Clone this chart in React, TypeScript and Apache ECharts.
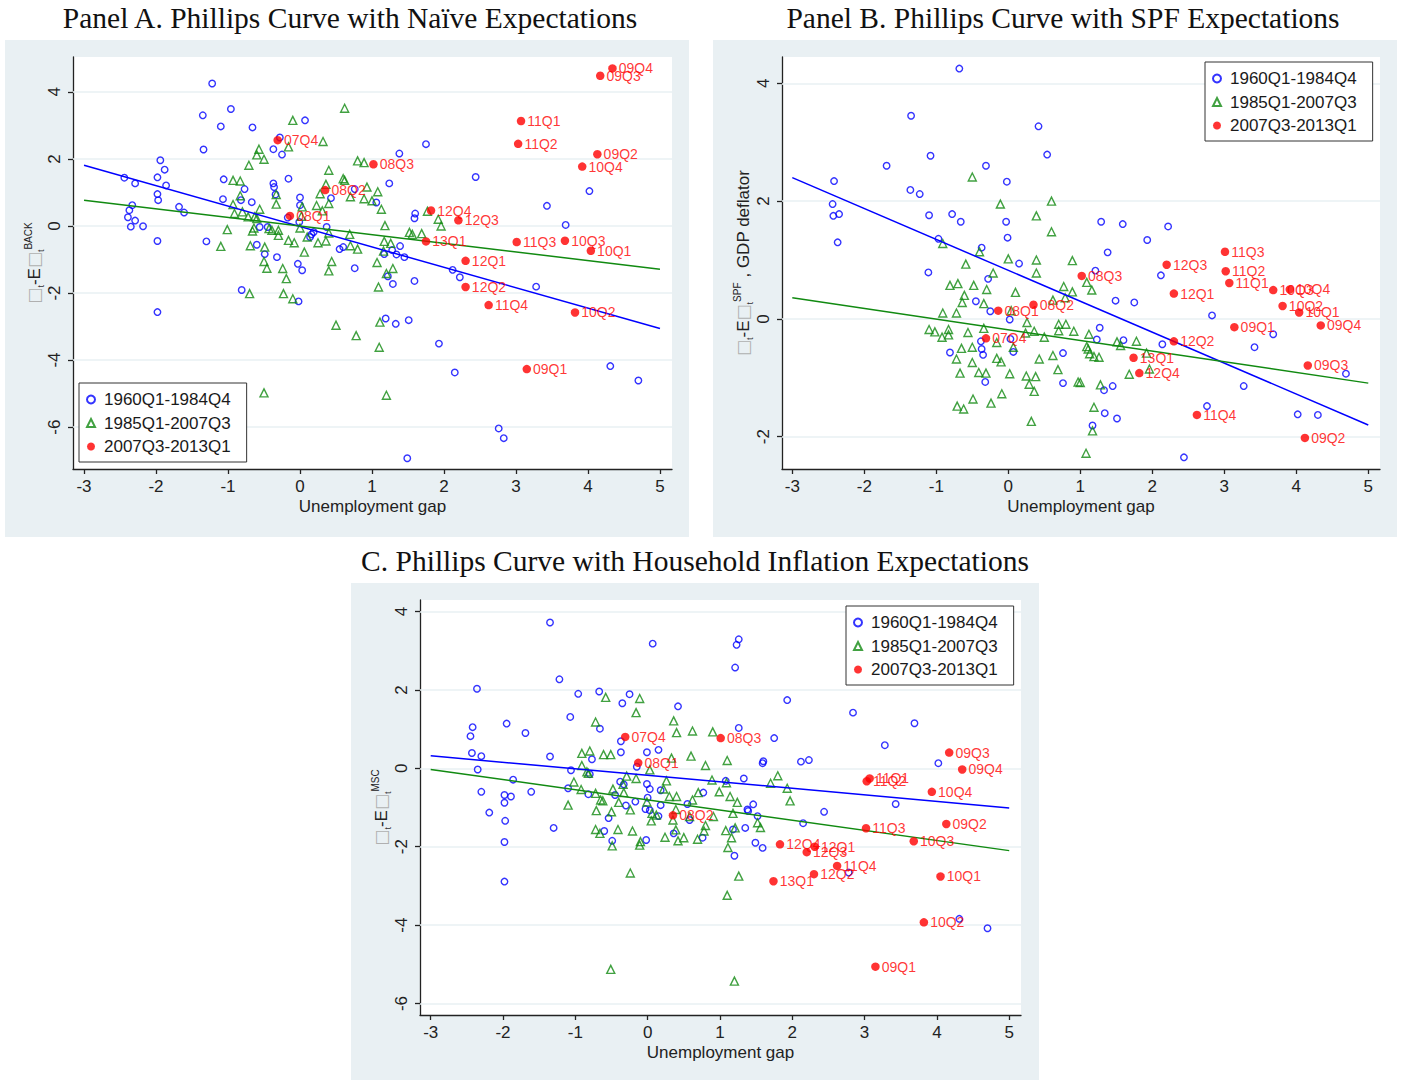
import React, { useEffect, useRef } from "react";
import * as echarts from "echarts";

const xTicks = [-3, -2, -1, 0, 1, 2, 3, 4, 5];
const yTicksA = [-6, -4, -2, 0, 2, 4];
const yTicksB = [-2, 0, 2, 4];
const yTicksC = [-6, -4, -2, 0, 2, 4];
const legendNames = ["1960Q1-1984Q4", "1985Q1-2007Q3", "2007Q3-2013Q1"];
const titles = [
  "Panel A. Phillips Curve with Naïve Expectations",
  "Panel B. Phillips Curve with SPF Expectations",
  "C. Phillips Curve with Household Inflation Expectations",
];
const xName = "Unemployment gap";

// ---------- Panel A ----------
const aBlue = [
  [-1.22, 4.25], [-1.35, 3.3], [-0.96, 3.49], [-1.1, 2.97], [-0.66, 2.94], [0.07, 3.15], [-1.34, 2.28], [-0.28, 2.64],
  [-0.37, 2.29], [-0.25, 2.13], [-1.94, 1.96], [-1.88, 1.68], [-2.44, 1.44], [-2.29, 1.27], [-1.98, 1.45], [-1.86, 1.21],
  [-1.98, 0.95], [-1.97, 0.77], [-2.33, 0.62], [-2.37, 0.47], [-2.39, 0.26], [-2.29, 0.16], [-2.35, -0.02], [-2.18, -0.01],
  [-1.68, 0.57], [-1.61, 0.4], [-1.06, 1.39], [-0.77, 1.1], [-1.07, 0.8], [-0.82, 0.77], [-0.67, 0.71], [-0.37, 1.27],
  [-0.36, 1.16], [-0.34, 0.94], [-0.16, 1.41], [0.0, 0.85], [0.0, 0.62], [0.43, 0.83], [0.76, 1.1], [-0.17, 0.25],
  [-0.01, 0.12], [-0.56, -0.03], [-0.45, -0.03], [0.37, -0.03], [-1.98, -0.45], [-1.3, -0.46], [-0.6, -0.56], [-0.49, -0.84],
  [-0.32, -0.93], [0.19, -0.18], [0.16, -0.25], [0.14, -0.33], [0.55, -0.69], [0.6, -0.63], [0.76, -1.26], [-0.03, -1.13],
  [0.03, -1.32], [-0.81, -1.91], [-0.02, -2.25], [-1.98, -2.57], [1.06, 0.7],
  [1.75, 2.44], [1.38, 2.16], [2.44, 1.46], [1.24, 1.27], [3.43, 0.6], [4.02, 1.04], [3.69, 0.03], [1.6, 0.37],
  [1.59, 0.23], [1.39, -0.6], [1.28, -0.72], [1.34, -0.85], [1.17, -0.84], [1.45, -0.93], [2.12, -1.31], [2.22, -1.53],
  [1.22, -1.5], [1.29, -1.73], [1.59, -1.64], [3.28, -1.81], [1.19, -2.76], [1.33, -2.92], [1.51, -2.81], [1.93, -3.51],
  [2.15, -4.37], [4.31, -4.18], [4.7, -4.61], [2.76, -6.04], [2.83, -6.33], [1.49, -6.93],
];
const aGreen = [
  [0.62, 3.51], [-0.1, 3.15], [0.32, 2.52], [-0.16, 2.36], [-0.57, 2.29], [-0.6, 2.12], [-0.5, 1.99], [-0.71, 1.81],
  [0.8, 1.94], [0.89, 1.89], [0.4, 1.66], [0.6, 1.41], [0.62, 1.36], [0.36, 1.24], [0.93, 1.16], [1.08, 1.02],
  [-0.93, 1.36], [-0.83, 1.34], [-0.83, 0.9], [-0.33, 0.94], [0.28, 0.96], [0.7, 0.87], [0.89, 0.81], [1.0, 0.75],
  [-0.93, 0.64], [-0.33, 0.65], [0.03, 0.57], [0.23, 0.61], [0.4, 0.67], [-0.56, 0.5], [-0.91, 0.37], [-0.8, 0.42],
  [-0.72, 0.27], [-0.63, 0.27], [-0.6, 0.22], [0.02, 0.29], [0.31, 0.45], [-1.01, -0.11], [-0.66, -0.15], [-0.64, -0.06],
  [-0.43, -0.08], [-0.39, -0.13], [-0.3, -0.13], [-0.3, -0.28], [0.0, -0.06], [0.4, -0.21], [0.69, -0.25], [0.1, -0.33],
  [-0.16, -0.43], [-0.08, -0.5], [0.25, -0.5], [0.36, -0.45], [0.7, -0.59], [0.8, -0.69], [-1.1, -0.61], [-0.69, -0.59],
  [-0.49, -0.63], [0.06, -0.78], [-0.5, -1.06], [-0.46, -1.26], [-0.24, -1.27], [-0.19, -1.57], [0.44, -1.06], [0.4, -1.34],
  [1.07, -1.09], [-0.23, -2.02], [-0.1, -2.17], [-0.7, -2.02], [1.09, -1.82],
  [1.13, 0.5], [1.18, 0.01], [1.77, 0.44], [1.92, 0.2], [1.96, 0.0], [1.52, -0.19], [1.56, -0.25], [1.69, -0.23],
  [1.17, -0.46], [1.26, -0.52], [1.16, -0.75], [1.29, -1.27], [1.2, -1.42], [1.11, -2.87], [1.1, -3.62],
  [0.5, -2.96], [0.78, -3.27], [-0.5, -4.98], [1.2, -5.05],
];
const aRedLabels = [
  "07Q4", "08Q1", "08Q2", "08Q3", "09Q4", "09Q3", "11Q1", "11Q2", "09Q2", "10Q4", "12Q4",
  "12Q3", "13Q1", "11Q3", "10Q3", "10Q1", "12Q1", "12Q2", "11Q4", "10Q2", "09Q1",
];
const aRedValues = [
  [-0.31, 2.56], [-0.14, 0.3], [0.35, 1.07], [1.02, 1.84], [4.34, 4.7], [4.17, 4.48], [3.07, 3.13], [3.03, 2.45],
  [4.13, 2.14], [3.92, 1.77], [1.82, 0.46], [2.2, 0.17], [1.75, -0.46], [3.01, -0.48], [3.68, -0.44], [4.04, -0.74],
  [2.3, -1.04], [2.3, -1.82], [2.62, -2.36], [3.82, -2.58], [3.15, -4.27],
];
const aFitBlue = [[-3, 1.81], [5, -3.06]];
const aFitGreen = [[-3, 0.77], [5, -1.29]];

// ---------- Panel B ----------
const bBlue = [
  [-0.68, 4.25], [-1.35, 3.45], [0.42, 3.27], [0.54, 2.79], [-1.08, 2.77], [-1.69, 2.6], [-0.31, 2.6], [-2.42, 2.34],
  [-1.36, 2.19], [-1.23, 2.12], [-0.02, 2.33], [-2.44, 1.95], [-2.43, 1.75], [-2.35, 1.78], [-1.1, 1.76], [-0.78, 1.78],
  [-0.66, 1.65], [-0.03, 1.65], [-0.01, 1.38], [-2.37, 1.3], [-0.97, 1.36], [-0.37, 1.21], [0.15, 0.94], [-1.11, 0.79],
  [-0.28, 0.68], [-0.45, 0.3], [-0.25, 0.13], [0.02, -0.01], [0.03, -0.34], [-0.38, -0.38], [-0.37, -0.51], [-0.35, -0.61],
  [0.07, -0.56], [-0.81, -0.57], [-0.32, -1.07], [0.76, -0.58], [0.76, -1.09],
  [1.29, 1.65], [1.59, 1.61], [2.22, 1.57], [1.93, 1.34], [1.38, 1.13], [1.21, 0.82], [2.12, 0.74], [1.49, 0.31],
  [1.75, 0.28], [2.83, 0.06], [1.27, -0.15], [1.23, -0.35], [1.6, -0.36], [2.14, -0.43], [3.68, -0.26], [3.42, -0.48],
  [4.69, -0.93], [1.33, -1.21], [1.45, -1.14], [3.27, -1.14], [2.76, -1.48], [4.02, -1.62], [4.3, -1.63], [1.34, -1.6],
  [1.51, -1.69], [1.17, -1.81], [2.44, -2.35],
];
const bGreen = [
  [-0.5, 2.41], [-0.11, 1.95], [0.6, 2.0], [0.39, 1.75], [0.6, 1.48], [-0.91, 1.28], [-0.4, 1.14], [0.0, 1.02],
  [0.39, 1.0], [0.89, 0.99], [-0.59, 0.93], [-0.21, 0.78], [0.39, 0.78], [-0.81, 0.57], [-0.7, 0.6], [-0.48, 0.57],
  [-0.3, 0.5], [0.1, 0.45], [0.77, 0.55], [0.89, 0.46], [0.79, 0.36], [0.62, 0.32], [-0.61, 0.4], [-0.64, 0.28],
  [-0.34, 0.26], [-0.91, 0.1], [-0.72, 0.1], [0.04, 0.14], [0.26, -0.06], [0.7, -0.09], [0.8, -0.09], [-1.1, -0.18],
  [-1.02, -0.22], [-0.83, -0.18], [-0.83, -0.27], [-0.92, -0.31], [-0.56, -0.23], [-0.34, -0.16], [-0.16, -0.4], [0.07, -0.48],
  [0.24, -0.24], [0.36, -0.21], [0.5, -0.31], [0.7, -0.2], [0.91, -0.21], [-0.65, -0.5], [-0.5, -0.48], [-0.72, -0.68],
  [-0.5, -0.74], [-0.16, -0.67], [-0.1, -0.73], [0.43, -0.68], [0.62, -0.62], [-0.67, -0.92], [-0.41, -0.91], [-0.31, -0.92],
  [0.02, -0.93], [0.25, -0.97], [0.38, -0.98], [0.69, -0.86], [0.97, -1.07], [0.29, -1.11], [0.36, -1.23], [-0.09, -1.27],
  [-0.49, -1.36], [-0.71, -1.48], [-0.62, -1.53], [-0.24, -1.43], [0.32, -1.74],
  [1.09, 0.62], [1.16, 0.49], [1.12, -0.26], [1.09, -0.47], [1.11, -0.51], [1.13, -0.59], [1.19, -0.64], [1.26, -0.65],
  [1.51, -0.39], [1.56, -0.45], [1.78, -0.38], [1.92, -0.58], [1.68, -0.94], [1.96, -0.85], [1.28, -1.12], [1.0, -1.08],
  [1.19, -1.5], [1.17, -1.9], [1.08, -2.28],
];
const bRedLabels = [
  "08Q1", "08Q2", "07Q4", "08Q3", "11Q3", "12Q3", "11Q2", "11Q1", "12Q1", "10Q3", "10Q4",
  "10Q2", "10Q1", "09Q1", "09Q4", "12Q2", "13Q1", "12Q4", "09Q3", "11Q4", "09Q2",
];
const bRedValues = [
  [-0.14, 0.14], [0.35, 0.24], [-0.31, -0.33], [1.02, 0.73], [3.01, 1.14], [2.2, 0.92], [3.02, 0.81], [3.07, 0.61],
  [2.3, 0.43], [3.68, 0.49], [3.91, 0.5], [3.81, 0.22], [4.04, 0.11], [3.14, -0.14], [4.34, -0.11], [2.3, -0.38],
  [1.74, -0.66], [1.82, -0.92], [4.16, -0.79], [2.62, -1.63], [4.12, -2.02],
];
const bFitBlue = [[-3, 2.4], [5, -1.8]];
const bFitGreen = [[-3, 0.36], [5, -1.09]];

// ---------- Panel C ----------
const cBlue = [
  [-1.35, 3.72], [0.07, 3.18], [-1.22, 2.27], [-2.36, 2.03], [-0.96, 1.9], [-0.67, 1.96], [-0.35, 1.66], [-0.25, 1.89],
  [0.42, 1.58], [-1.07, 1.31], [-0.66, 1.01], [-1.95, 1.14], [-1.69, 0.9], [-2.42, 1.05], [-2.45, 0.82], [-2.43, 0.39],
  [-2.3, 0.31], [-2.35, -0.03], [-1.35, 0.3], [-0.77, 0.23], [-0.37, 0.41], [-0.37, 0.69], [-0.01, 0.41], [0.15, 0.47],
  [-1.06, -0.05], [-0.8, -0.15], [-0.15, 0.04], [-1.86, -0.29], [-2.3, -0.6], [-1.98, -0.68], [-1.89, -0.72], [-1.98, -0.88],
  [-1.61, -0.6], [-2.19, -1.13], [-1.97, -1.34], [-1.98, -1.88], [-1.98, -2.89], [-1.3, -1.52], [-1.1, -0.51], [-0.82, -0.66],
  [-0.38, -0.34], [-0.33, -0.41], [-0.45, -0.68], [-0.3, -0.95], [-0.17, -0.85], [-0.01, -0.4], [0.03, -0.53], [0.0, -0.75],
  [-0.03, -1.04], [0.03, -1.07], [0.15, -1.22], [0.18, -0.56], [0.18, -0.94], [-0.54, -1.27], [-0.6, -1.6], [-0.49, -1.85],
  [-0.02, -1.83], [0.36, -1.66], [0.58, -1.32], [0.55, -0.91], [0.77, -0.62], [0.76, -1.77], [1.08, -0.32], [1.18, -1.56],
  [1.2, -2.23], [1.26, 1.03], [1.23, 3.15], [1.21, 2.57], [1.26, 3.29],
  [1.93, 1.74], [2.84, 1.42], [3.69, 1.15], [3.28, 0.59], [1.75, 0.77], [1.6, 0.18], [1.59, 0.13], [2.12, 0.17],
  [2.23, 0.21], [4.02, 0.13], [1.33, -0.26], [1.46, -0.92], [1.38, -1.05], [1.39, -1.09], [1.52, -1.22], [1.35, -1.52],
  [1.49, -1.9], [1.59, -2.03], [2.15, -1.4], [2.44, -1.11], [3.43, -0.91], [2.78, -2.66], [4.31, -3.84], [4.7, -4.08],
];
const cGreen = [
  [-0.58, 1.81], [-0.11, 1.78], [-0.16, 1.42], [-0.72, 1.18], [0.36, 1.21], [0.4, 0.91], [0.62, 0.95], [0.9, 0.93],
  [-0.91, 0.38], [-0.8, 0.44], [-0.61, 0.35], [-0.51, 0.35], [-0.91, 0.07], [-0.84, -0.09], [-0.82, -0.13], [-1.02, -0.35],
  [-0.92, -0.54], [-1.1, -0.94], [-0.72, -0.64], [-0.65, -0.81], [-0.62, -0.83], [-0.48, -0.53], [-0.33, -0.62], [-0.34, -0.41],
  [-0.29, -0.2], [-0.16, -0.26], [0.03, -0.04], [0.33, 0.26], [0.6, 0.31], [0.8, 0.07], [1.1, 0.2], [0.89, -0.3],
  [1.09, -0.37], [0.26, -0.32], [0.22, -0.53], [0.3, -0.72], [0.4, -0.72], [0.7, -0.62], [0.62, -0.81], [0.99, -0.6],
  [1.14, -0.72], [1.24, -0.87], [-0.4, -0.87], [-0.71, -1.08], [-0.5, -1.11], [-0.24, -1.06], [-0.01, -0.86], [0.06, -1.15],
  [0.12, -1.19], [0.05, -1.34], [0.39, -1.05], [0.35, -1.32], [0.58, -1.23], [0.8, -1.46], [0.91, -1.23], [0.78, -1.6],
  [1.18, -1.15], [1.21, -1.52], [1.08, -1.59], [1.16, -1.77], [-0.72, -1.56], [-0.66, -1.66], [-0.41, -1.56], [-0.21, -1.6],
  [-0.1, -1.87], [-0.11, -1.96], [-0.49, -1.98], [0.24, -1.76], [0.42, -1.85], [0.5, -1.77], [0.69, -1.81], [0.39, -1.57],
  [1.11, -2.02], [-0.24, -2.67], [1.1, -3.24], [-0.51, -5.13], [1.2, -5.43], [1.26, -2.75],
  [1.8, -0.19], [1.7, -0.38], [1.93, -0.51], [1.97, -0.83], [1.52, -1.39], [1.56, -1.51],
];
const cRedLabels = [
  "07Q4", "08Q1", "08Q2", "08Q3", "09Q3", "09Q4", "11Q1", "11Q2", "10Q4", "09Q2", "11Q3",
  "10Q3", "12Q4", "12Q1", "12Q3", "11Q4", "12Q2", "13Q1", "10Q1", "10Q2", "09Q1",
];
const cRedValues = [
  [-0.31, 0.8], [-0.13, 0.14], [0.35, -1.2], [1.01, 0.77], [4.17, 0.4], [4.35, -0.03], [3.07, -0.26], [3.03, -0.33],
  [3.93, -0.6], [4.13, -1.42], [3.02, -1.53], [3.68, -1.86], [1.83, -1.94], [2.31, -2.0], [2.2, -2.14], [2.62, -2.49],
  [2.3, -2.7], [1.74, -2.88], [4.05, -2.76], [3.82, -3.93], [3.15, -5.06],
];
const cFitBlue = [[-3, 0.32], [5, -1.01]];
const cFitGreen = [[-3, -0.03], [5, -2.1]];

const BLUE = "#0000ff";
const GREEN = "#118a11";
const RED = "#ff0000";
const BG = "#e9f0f3";
const GRIDLINE = "#e9f0f3";
const SANS = "'Liberation Sans', Arial, sans-serif";
const SERIF = "'Liberation Serif', 'Times New Roman', serif";

function yNameRich(sup: string, tail: string) {
  return "{g|□}{s|t}{n|-E}{g|□}{s|t}{p|" + sup + "}" + (tail ? "{n|" + tail + "}" : "");
}

const richStyle = {
  g: { fontSize: 17, color: "#b0b0b0", fontFamily: "'DejaVu Sans'", lineHeight: 22, verticalAlign: "middle" },
  s: { fontSize: 9, color: "#333", fontFamily: SANS, lineHeight: 22, verticalAlign: "bottom" },
  n: { fontSize: 17, color: "#222", fontFamily: SANS, lineHeight: 22, verticalAlign: "middle" },
  p: { fontSize: 10, color: "#222", fontFamily: SANS, lineHeight: 22, verticalAlign: "top" },
};

export default function App() {
  const ref = useRef<HTMLDivElement>(null);
  useEffect(() => {
    document.body.style.margin = "0";
    if (!ref.current) return;
    const chart = echarts.init(ref.current, undefined, { renderer: "svg" });

    const panels = [
      { grid: { left: 73, top: 57, width: 599, height: 412 }, xmin: -3.153, xmax: 5.167, ymin: -7.25, ymax: 5.04, yTicks: yTicksA, yName: yNameRich("BACK", ""), blue: aBlue, green: aGreen, redL: aRedLabels, redV: aRedValues, fb: aFitBlue, fg: aFitGreen, legend: { left: 79, top: 383 } },
      { grid: { left: 782, top: 57, width: 598, height: 412 }, xmin: -3.143, xmax: 5.163, ymin: -2.548, ymax: 4.447, yTicks: yTicksB, yName: yNameRich("SPF", " , GDP deflator"), blue: bBlue, green: bGreen, redL: bRedLabels, redV: bRedValues, fb: bFitBlue, fg: bFitGreen, legend: { left: 1205, top: 62 } },
      { grid: { left: 420, top: 600, width: 601, height: 415 }, xmin: -3.148, xmax: 5.163, ymin: -6.293, ymax: 4.293, yTicks: yTicksC, yName: yNameRich("MSC", ""), blue: cBlue, green: cGreen, redL: cRedLabels, redV: cRedValues, fb: cFitBlue, fg: cFitGreen, legend: { left: 846, top: 606 } },
    ];

    const axisLineStyle = { color: "#222", width: 1.3 };
    const series: any[] = [];
    panels.forEach((p, i) => {
      series.push({
        type: "line", xAxisIndex: i, yAxisIndex: i, data: [], z: 1, silent: true,
        markLine: {
          silent: true, symbol: "none", z: 1, animation: false,
          label: { show: false },
          lineStyle: { color: GRIDLINE, width: 1.6, type: "solid" },
          data: p.yTicks.map((v) => ({ yAxis: v })),
        },
      });
      series.push({
        type: "scatter", name: legendNames[0], xAxisIndex: i, yAxisIndex: i, data: p.blue, z: 3,
        symbol: "circle", symbolSize: 6.5,
        itemStyle: { color: "rgba(0,0,0,0)", borderColor: BLUE, borderWidth: 1.4 },
      });
      series.push({
        type: "scatter", name: legendNames[1], xAxisIndex: i, yAxisIndex: i, data: p.green, z: 3,
        symbol: "triangle", symbolSize: 8,
        itemStyle: { color: "rgba(0,0,0,0)", borderColor: GREEN, borderWidth: 1.4 },
      });
      series.push({
        type: "line", xAxisIndex: i, yAxisIndex: i, data: p.fb, z: 4, symbol: "none", silent: true,
        lineStyle: { color: BLUE, width: 1.5 },
      });
      series.push({
        type: "line", xAxisIndex: i, yAxisIndex: i, data: p.fg, z: 4, symbol: "none", silent: true,
        lineStyle: { color: GREEN, width: 1.5 },
      });
      series.push({
        type: "scatter", name: legendNames[2], xAxisIndex: i, yAxisIndex: i, z: 5,
        data: p.redV.map((v, k) => ({ name: p.redL[k], value: v })),
        symbol: "circle", symbolSize: 8.5,
        itemStyle: { color: RED },
        label: { show: true, position: "right", distance: 2, formatter: "{b}", color: RED, fontSize: 14, fontFamily: SANS },
      });
    });

    const option: any = {
      animation: false,
      graphic: [
        { type: "rect", z: -10, shape: { x: 5, y: 40, width: 684, height: 497 }, style: { fill: BG } },
        { type: "rect", z: -10, shape: { x: 713, y: 40, width: 684, height: 497 }, style: { fill: BG } },
        { type: "rect", z: -10, shape: { x: 351, y: 583, width: 688, height: 497 }, style: { fill: BG } },
        { type: "text", x: 350, y: 18, style: { text: titles[0], font: "29.5px " + SERIF, fill: "#111", align: "center", verticalAlign: "middle" } },
        { type: "text", x: 1063, y: 18, style: { text: titles[1], font: "29.5px " + SERIF, fill: "#111", align: "center", verticalAlign: "middle" } },
        { type: "text", x: 695, y: 561, style: { text: titles[2], font: "29.5px " + SERIF, fill: "#111", align: "center", verticalAlign: "middle" } },
      ],
      grid: panels.map((p) => ({ ...p.grid, show: true, backgroundColor: "#ffffff", borderWidth: 0, containLabel: false })),
      xAxis: panels.map((p, i) => ({
        type: "value", gridIndex: i, min: p.xmin, max: p.xmax,
        name: xName, nameLocation: "middle", nameGap: 29,
        nameTextStyle: { fontSize: 17, fontFamily: SANS, color: "#222" },
        axisLine: { show: true, onZero: false, lineStyle: axisLineStyle },
        axisTick: { show: true, length: 5, customValues: xTicks, lineStyle: axisLineStyle },
        axisLabel: { show: true, customValues: xTicks, fontSize: 17, fontFamily: SANS, color: "#222", margin: 9 },
        splitLine: { show: false },
      })),
      yAxis: panels.map((p, i) => ({
        type: "value", gridIndex: i, min: p.ymin, max: p.ymax,
        name: p.yName, nameLocation: "middle", nameGap: 26,
        nameTextStyle: { rich: richStyle },
        axisLine: { show: true, onZero: false, lineStyle: axisLineStyle },
        axisTick: { show: true, length: 5, customValues: p.yTicks, lineStyle: axisLineStyle },
        axisLabel: { show: true, customValues: p.yTicks, rotate: 90, fontSize: 17, fontFamily: SANS, color: "#222", margin: 10 },
        splitLine: { show: false },
      })),
      legend: panels.map((p) => ({
        ...p.legend, orient: "vertical", data: legendNames,
        backgroundColor: "#ffffff", borderColor: "#333", borderWidth: 1, borderRadius: 0,
        padding: [8, 16, 7, 7], itemGap: 6.5, itemWidth: 8, itemHeight: 8,
        textStyle: { fontSize: 17, fontFamily: SANS, color: "#1a1a1a", padding: [0, 0, 0, 4] },
        selectedMode: false,
      })),
      series,
    };
    chart.setOption(option);
    return () => chart.dispose();
  }, []);
  return <div ref={ref} style={{ width: 1403, height: 1080 }} />;
}
